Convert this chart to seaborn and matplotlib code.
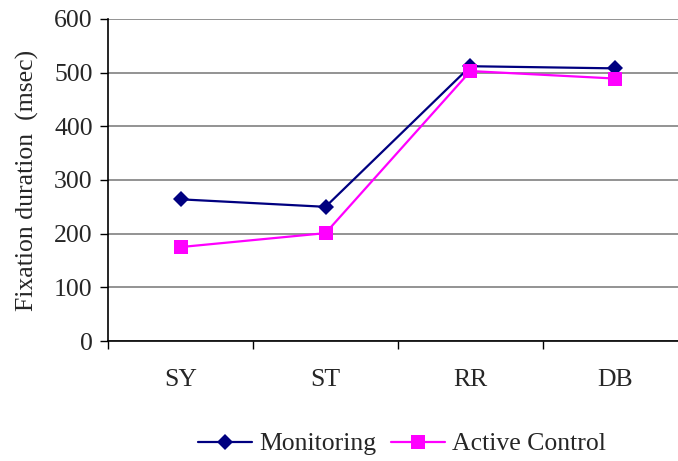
import matplotlib
matplotlib.use("Agg")
import matplotlib.pyplot as plt
import seaborn as sns
import pandas as pd

categories = ["SY", "ST", "RR", "DB"]
monitoring = [264, 250, 512, 508]
active_control = [175, 201, 503, 489]
series_names = ["Monitoring", "Active Control"]
y_ticks = [0, 100, 200, 300, 400, 500, 600]

sns.set_theme(style="white")
plt.rcParams['font.family'] = ['Liberation Serif', 'DejaVu Serif']

FS = 18.5

df = pd.DataFrame({
    "cat": categories * 2,
    "pos": list(range(len(categories))) * 2,
    "value": monitoring + active_control,
    "series": [series_names[0]] * 4 + [series_names[1]] * 4,
})

fig = plt.figure(figsize=(6.78, 4.61), dpi=100)
ax = fig.add_axes([108/678, 120/461, 580/678, 322/461])

sns.lineplot(data=df, x="pos", y="value", hue="series", style="series",
             palette={series_names[0]: "#000080", series_names[1]: "#FF00FF"},
             markers={series_names[0]: "D", series_names[1]: "s"},
             dashes=False, markersize=9, linewidth=1.6, markeredgewidth=0,
             sort=False, ax=ax, legend=False)
for line in ax.lines:
    if line.get_marker() == "D":
        line.set_markersize(8)
    elif line.get_marker() == "s":
        line.set_markersize(9.5)

ax.set_xlim(-0.5, len(categories) - 0.5)
ax.set_ylim(0, 600)
ax.set_yticks(y_ticks)
ax.set_yticklabels([str(v) for v in y_ticks], fontsize=FS)
ax.set_xticks(range(len(categories)))
ax.set_xticklabels(categories, fontsize=FS)
ax.set_xticks([i - 0.5 for i in range(len(categories) + 1)], minor=True)
ax.tick_params(axis="x", which="major", length=0, pad=20)
ax.tick_params(axis="x", which="minor", length=6, width=1, color="black", direction="out", bottom=True)
ax.tick_params(axis="y", which="major", length=6, width=1, color="black", direction="out", left=True, pad=5)
ax.yaxis.grid(True, color="#808080", linewidth=1.2)
ax.xaxis.grid(False)
ax.set_axisbelow(True)
for s in ["top", "right"]:
    ax.spines[s].set_visible(False)
for s in ["left", "bottom"]:
    ax.spines[s].set_color("black")
    ax.spines[s].set_linewidth(1.2)
ax.set_xlabel("")
ax.set_ylabel("Fixation duration  (msec)", fontsize=FS, labelpad=11)

from matplotlib.lines import Line2D
handles = [
    Line2D([], [], color="#000080", marker="D", markersize=8, markeredgewidth=0, linewidth=1.6),
    Line2D([], [], color="#FF00FF", marker="s", markersize=9.5, markeredgewidth=0, linewidth=1.6),
]
fig.legend(handles, series_names, loc="center", bbox_to_anchor=(402/678, 1 - 444/461),
           ncol=2, frameon=False, fontsize=FS, handlelength=2.1, columnspacing=0.6,
           handletextpad=0.25, borderpad=0)

fig.savefig("out.png", dpi=100)
